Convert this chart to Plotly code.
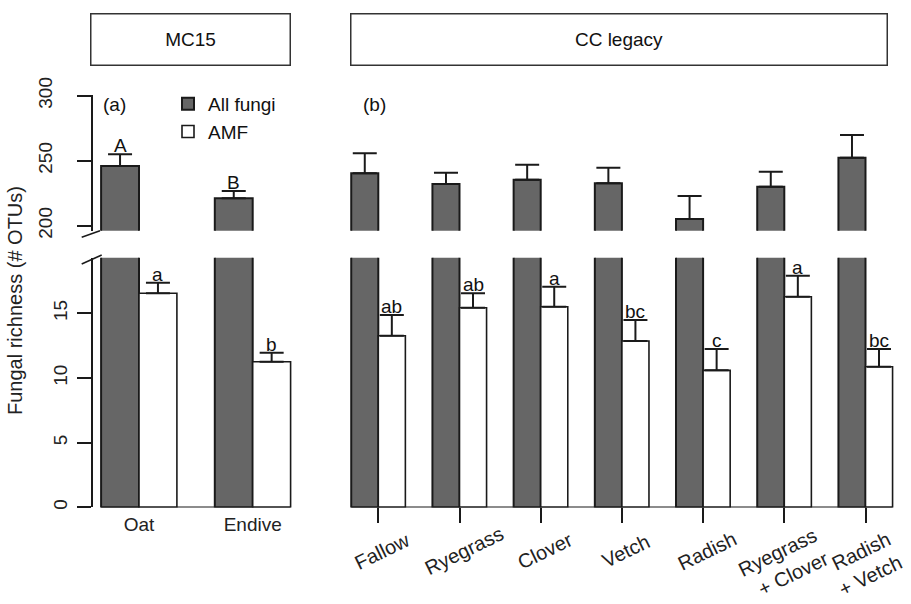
import plotly.graph_objects as go

# ---------------- data ----------------
mc_categories = ["Oat", "Endive"]
mc_all = [245.9, 221.2]
mc_all_err = [9.0, 5.4]
mc_amf = [16.55, 11.26]
mc_amf_err = [0.82, 0.70]
mc_all_letters = ["A", "B"]
mc_amf_letters = ["a", "b"]

cc_categories = ["Fallow", "Ryegrass", "Clover", "Vetch", "Radish",
                 "Ryegrass<br>+ Clover", "Radish<br>+ Vetch"]
cc_all = [240.3, 232.1, 235.4, 232.6, 205.2, 230.0, 252.3]
cc_all_err = [15.4, 8.7, 11.5, 12.0, 17.6, 11.5, 17.5]
cc_amf = [13.27, 15.43, 15.51, 12.86, 10.59, 16.28, 10.87]
cc_amf_err = [1.60, 1.12, 1.55, 1.62, 1.65, 1.63, 1.37]
cc_amf_letters = ["ab", "ab", "a", "bc", "c", "a", "bc"]

upper_ticks = [200, 250, 300]
lower_ticks = [0, 5, 10, 15]

# ---------------- styling / geometry ----------------
W, H = 911, 604
FONT = "Liberation Sans, Arial, Helvetica, sans-serif"
GRAY = "#666666"
EDGE = "#1a1a1a"
BARGAP = 1 / 3
HALF = (1 - BARGAP) / 2  # width of one bar in category units


def px_x(p):
    return p / W


def px_y(p):
    return 1 - p / H


fig = go.Figure()


def add_panel(xref, cats, all_v, all_e, amf_v, amf_e, legend):
    pos = list(range(len(cats)))
    for yax in ["y", "y2"]:
        fig.add_trace(go.Bar(
            x=pos, y=all_v, xaxis=xref, yaxis=yax, name="All fungi",
            marker=dict(color=GRAY, line=dict(color=EDGE, width=2)),
            error_y=dict(type="data", array=all_e, arrayminus=[0] * len(pos),
                         symmetric=False, color=EDGE, thickness=2, width=12),
            showlegend=(legend and yax == "y"), legendrank=1,
        ))
        fig.add_trace(go.Bar(
            x=pos, y=amf_v, xaxis=xref, yaxis=yax, name="AMF",
            marker=dict(color="white", line=dict(color=EDGE, width=1.6)),
            error_y=dict(type="data", array=amf_e, arrayminus=[0] * len(pos),
                         symmetric=False, color=EDGE, thickness=2, width=12),
            showlegend=(legend and yax == "y"), legendrank=2,
        ))


add_panel("x", mc_categories, mc_all, mc_all_err, mc_amf, mc_amf_err, True)
add_panel("x2", cc_categories, cc_all, cc_all_err, cc_amf, cc_amf_err, False)

annotations = []
letter_font = dict(family=FONT, size=19, color="#111")
for i, (v, e, t) in enumerate(zip(mc_all, mc_all_err, mc_all_letters)):
    annotations.append(dict(x=i - HALF / 2, y=v + e, xref="x", yref="y", text=t,
                            showarrow=False, xanchor="center", yanchor="bottom", yshift=-4,
                            font=letter_font))
for i, (v, e, t) in enumerate(zip(mc_amf, mc_amf_err, mc_amf_letters)):
    annotations.append(dict(x=i + HALF / 2, y=v + e, xref="x", yref="y2", text=t,
                            showarrow=False, xanchor="center", yanchor="bottom", yshift=-4,
                            font=letter_font))
for i, (v, e, t) in enumerate(zip(cc_amf, cc_amf_err, cc_amf_letters)):
    annotations.append(dict(x=i + HALF / 2, y=v + e, xref="x2", yref="y2", text=t,
                            showarrow=False, xanchor="center", yanchor="bottom", yshift=-4,
                            font=letter_font))

# rotated category labels of panel (b), centred below each tick (like R's text(srt=...))
for i, t in enumerate(cc_categories):
    extra = t.count("<br>")
    annotations.append(dict(x=i, xref="x2", xshift=4 - 5 * extra,
                            y=px_y(551 + 13 * extra), yref="paper", text=t,
                            textangle=-26, showarrow=False, xanchor="center", yanchor="middle",
                            align="right",
                            font=dict(family=FONT, size=20, color="#222")))

# panel tags
for tag, left in [("(a)", 101), ("(b)", 361)]:
    annotations.append(dict(x=px_x(left), y=px_y(104), xref="paper", yref="paper", text=tag,
                            showarrow=False, xanchor="left", yanchor="middle",
                            font=dict(family=FONT, size=19, color="#111")))
# strip headers
for label, cx, wd in [("MC15", 190.5, 198), ("CC legacy", 619, 535)]:
    annotations.append(dict(x=px_x(cx), y=px_y(39.5), xref="paper", yref="paper", text=label,
                            showarrow=False, xanchor="center", yanchor="middle",
                            width=wd, height=50, borderpad=0,
                            bordercolor="#333", borderwidth=1.5, bgcolor="white",
                            font=dict(family=FONT, size=19, color="#111")))
# y title
annotations.append(dict(x=px_x(15), y=px_y(301), xref="paper", yref="paper",
                        text="Fungal richness (# OTUs)", textangle=-90, showarrow=False,
                        xanchor="center", yanchor="middle",
                        font=dict(family=FONT, size=20, color="#222")))

shapes = []
# baseline of bars
for xref, cats in [("x", mc_categories), ("x2", cc_categories)]:
    shapes.append(dict(type="line", xref=xref, yref="y2", x0=-HALF, x1=len(cats) - 1 + HALF,
                       y0=0, y1=0, line=dict(color=EDGE, width=2)))
# axis break marks
for (a, b, c, d) in [(81.7, 237.3, 100, 230.7), (81.7, 264, 101.7, 255)]:
    shapes.append(dict(type="line", xref="paper", yref="paper",
                       x0=px_x(a), y0=px_y(b), x1=px_x(c), y1=px_y(d),
                       line=dict(color=EDGE, width=1.5)))

tickfont = dict(family=FONT, size=19, color="#222")
common_y = dict(showgrid=False, zeroline=False, showline=True, linecolor=EDGE, linewidth=1.5,
                ticks="outside", ticklen=14, tickwidth=1.5, tickcolor=EDGE,
                tickangle=-90, tickfont=tickfont, anchor="x", automargin=False)

fig.update_layout(
    width=W, height=H,
    margin=dict(l=0, r=0, t=0, b=0, autoexpand=False),
    paper_bgcolor="white", plot_bgcolor="white",
    barmode="group", bargap=BARGAP, bargroupgap=0,
    font=dict(family=FONT),
    xaxis=dict(domain=[px_x(93), px_x(296)], range=[(93 - 139) / 113.7, (296 - 139) / 113.7],
               anchor="y2", showgrid=False, zeroline=False, showline=False, automargin=False,
               tickmode="array", tickvals=list(range(len(mc_categories))), ticktext=mc_categories,
               ticks="", tickfont=tickfont, ticklabelstandoff=4),
    xaxis2=dict(domain=[px_x(340), px_x(905)],
                range=[(340 - 378.3) / 81.2, (905 - 378.3) / 81.2],
                anchor="y2", showgrid=False, zeroline=False, showline=False, automargin=False,
                tickmode="array", tickvals=list(range(len(cc_categories))),
                showticklabels=False,
                ticks="outside", ticklen=15, tickwidth=1.5, tickcolor=EDGE),
    yaxis=dict(domain=[px_y(230.7), px_y(95)], range=[196.154, 300.54],
               tickmode="array", tickvals=upper_ticks, ticklabelstandoff=18, **common_y),
    yaxis2=dict(domain=[px_y(507.4), px_y(257.7)], range=[0, 19.297],
                tickmode="array", tickvals=lower_ticks, ticklabelstandoff=3, **common_y),
    legend=dict(x=px_x(168), y=px_y(85), xanchor="left", yanchor="top",
                bgcolor="rgba(0,0,0,0)", font=dict(family=FONT, size=19, color="#111"),
                traceorder="normal"),
    annotations=annotations,
    shapes=shapes,
)

fig.write_html("out.html",
               config={"displayModeBar": False},
               post_script="document.body.style.margin='0px';"
                           "document.body.style.overflow='hidden';")
